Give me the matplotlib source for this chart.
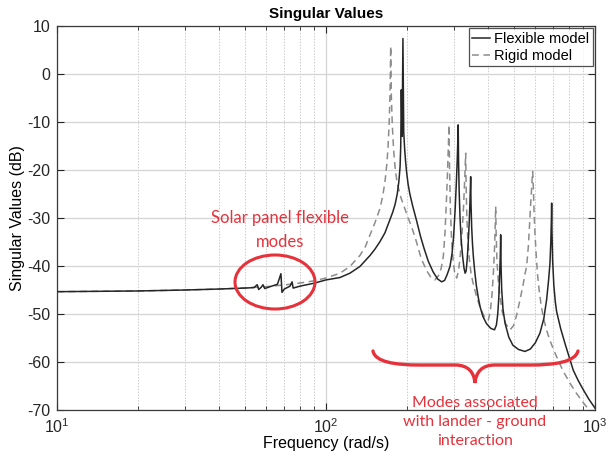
import matplotlib
matplotlib.use("Agg")
import matplotlib.pyplot as plt
from matplotlib.patches import Ellipse, PathPatch
from matplotlib.path import Path
from matplotlib.ticker import LogLocator, NullFormatter, FixedLocator

plt.rcParams['font.family'] = ['Liberation Sans', 'DejaVu Sans']
plt.rcParams['axes.unicode_minus'] = False

# ---- data ----
flex_freq = [10, 20, 30, 40, 50, 54, 55.5, 56.2, 57.5, 58.3, 59.2, 62, 66, 68.0, 68.6, 70,
             73.5, 74.8, 75.5, 80, 90, 100, 112.7, 122.7, 133.7, 145.8, 152, 158.8, 165.6,
             172.7, 177, 180.6, 184, 186.5, 188.5, 189.6, 190.5, 191.8, 193.2, 194.5, 196,
             197.5, 199.5, 202, 205, 210, 217, 225, 232, 240, 250, 260, 269, 276, 282, 289,
             294, 298, 302, 305, 307.5, 309, 310, 311, 312.5, 315, 318, 322, 326, 329, 332,
             335, 338, 341, 343, 344.2, 345, 346, 348, 350.5, 353, 357, 362, 368, 374, 383,
             395, 410, 423, 430, 435, 439, 442, 444.5, 446, 447.5, 450, 455, 463, 478, 495,
             520, 549, 575, 600, 624, 645, 661, 672, 680, 685, 688, 690, 692, 696, 703, 712,
             720, 745, 773, 800, 830, 865, 905, 950, 1000]
flex_db = [-45.35, -45.2, -45.0, -44.8, -44.6, -44.5, -43.9, -44.9, -44.4, -43.9, -44.7,
           -44.3, -43.8, -41.6, -45.5, -44.8, -44.2, -43.3, -44.6, -44.2, -43.6, -42.9, -42.4,
           -41.5, -40.1, -37.8, -36.5, -34.9, -33.1, -30.4, -28.8, -27.2, -25.0, -22.5, -19.4,
           -15.0, -3.3, -13.0, 7.4, -12.0, -15.5, -18.0, -20.6, -23.0, -25.0, -27.5, -30.5,
           -34.0, -36.5, -39.0, -41.2, -42.7, -43.3, -43.0, -41.8, -40.1, -37.5, -34.0, -28.3,
           -23.0, -18.0, -14.0, -10.6, -18.0, -24.0, -30.0, -34.5, -38.0, -40.5, -41.5, -41.0,
           -38.5, -35.0, -30.5, -26.5, -23.5, -21.4, -27.0, -32.0, -35.5, -38.0, -41.0, -44.0,
           -46.5, -48.5, -50.5, -52.0, -53.0, -53.3, -52.3, -50.0, -46.5, -42.0, -38.0, -33.5,
           -40.0, -45.0, -49.0, -51.9, -54.8, -56.5, -57.4, -57.8, -57.3, -56.0, -54.0, -51.0,
           -47.0, -43.0, -39.5, -35.0, -31.0, -26.9, -33.0, -39.0, -44.0, -47.5, -49.5, -53.0,
           -56.1, -58.8, -61.7, -63.8, -65.8, -67.8, -69.6]

rigid_freq = [10, 20, 30, 40, 50, 60, 70, 80, 90, 100, 112.7, 122.7, 133.7, 140, 145.8, 152,
              158.8, 163, 166, 168.5, 170.1, 171.8, 173, 174, 175, 176.5, 178.5, 181, 184,
              190, 200, 210, 217, 226, 237, 245, 254, 262, 268, 273, 277, 281, 283.5, 285.2,
              286.6, 288, 290, 293, 297, 301, 306, 311, 316, 321, 325, 328, 330.6, 332, 334,
              337, 341, 346, 352, 363, 375, 388, 401, 408, 414, 419, 423, 425.5, 427.4, 429,
              432, 437, 443.6, 452, 465, 483, 497, 510, 526, 540, 550, 557, 565, 571, 576,
              581, 584.5, 586.7, 590, 594, 598, 605, 612, 620, 630, 642, 660, 680, 700, 720,
              760, 807, 855, 905, 960, 1000]
rigid_db = [-45.35, -45.2, -45.0, -44.8, -44.55, -44.3, -43.95, -43.55, -43.1, -42.5, -41.5,
            -40.1, -37.8, -36.0, -33.5, -31.0, -28.0, -25.0, -22.0, -18.5, -15.1, -10.0, -4.0,
            5.8, -5.0, -11.0, -16.0, -20.0, -22.8, -25.8, -29.3, -32.5, -35.0, -38.5, -41.0,
            -42.3, -42.9, -42.0, -40.5, -38.0, -33.0, -25.0, -19.0, -14.5, -10.6, -20.0, -28.0,
            -34.5, -39.0, -41.5, -42.5, -41.0, -37.5, -32.5, -27.0, -21.5, -16.5, -24.0, -30.0,
            -35.0, -38.5, -41.5, -43.5, -46.4, -48.8, -50.6, -51.3, -49.5, -46.0, -41.5, -36.5,
            -32.0, -27.6, -33.0, -39.0, -43.0, -46.4, -49.5, -52.0, -53.3, -52.5, -50.5, -47.1,
            -44.0, -41.5, -40.1, -36.0, -31.5, -27.5, -24.0, -21.5, -20.3, -24.0, -29.0, -33.1,
            -38.0, -42.0, -45.0, -48.0, -50.6, -53.3, -55.5, -57.3, -58.9, -61.8, -64.4, -66.6,
            -68.5, -70.3, -71.5]

series_labels = ["Flexible model", "Rigid model"]
yticks = [10, 0, -10, -20, -30, -40, -50, -60, -70]

W, H = 611, 461
fig = plt.figure(figsize=(W / 100, H / 100), dpi=100)
ax = fig.add_axes([57 / W, 1 - 410 / H, (595 - 57) / W, (410 - 26) / H])

ax.plot(flex_freq, flex_db, color='#262626', lw=1.1, label=series_labels[0], zorder=4)
ax.plot(rigid_freq, rigid_db, color='#8c8c8c', lw=1.1, ls=(0, (4.5, 3)), label=series_labels[1], zorder=3)

ax.set_xscale('log')
ax.set_xlim(10, 1000)
ax.set_ylim(-70, 10)
ax.yaxis.set_major_locator(FixedLocator(yticks))
ax.xaxis.set_major_locator(LogLocator(base=10, numticks=10))
ax.xaxis.set_minor_locator(LogLocator(base=10, subs=range(2, 10), numticks=50))
ax.xaxis.set_minor_formatter(NullFormatter())

ax.grid(True, which='major', color='#d4d4d4', lw=0.9, ls='-')
ax.grid(True, which='minor', axis='x', color='#cccccc', lw=0.7, ls=(0, (1.5, 1.5)))
ax.set_axisbelow(True)

ax.tick_params(which='both', direction='in', top=True, right=True, labelsize=11.5, colors='#262626')
ax.tick_params(which='major', length=5, pad=5)
ax.tick_params(which='minor', length=3)
for s in ax.spines.values():
    s.set_color('#3a3a3a')
    s.set_linewidth(0.9)

ax.set_title('Singular Values', fontsize=11, fontweight='bold', pad=6)
ax.set_xlabel('Frequency (rad/s)', fontsize=11.5, labelpad=0)
ax.set_ylabel('Singular Values (dB)', fontsize=11.5, labelpad=1)

leg = ax.legend(loc='upper right', fontsize=10.5, frameon=True, fancybox=False,
                edgecolor='#262626', handlelength=1.2, borderpad=0.25, labelspacing=0.2,
                handletextpad=0.3, borderaxespad=0.15)
leg.get_frame().set_linewidth(0.9)

red = '#e5323b'

def fxy(px, py):
    return (px / W, 1 - py / H)

# ellipse around the solar panel modes
ex, ey = fxy(275, 282)
ell = Ellipse((ex, ey), 80 / W, 54 / H, transform=fig.transFigure, fill=False,
              edgecolor=red, lw=2.2, zorder=6)
fig.add_artist(ell)

fig.text(*fxy(280, 230), 'Solar panel flexible\nmodes', color=red, fontsize=12,
         ha='center', va='center', family=['Lato', 'DejaVu Sans'], linespacing=1.55)

# curly brace
pts = [(373, 351), (375, 362), (395, 365), (420, 365),
       (455, 365),
       (468, 365), (474, 372), (475, 383),
       (476, 372), (482, 365), (495, 365),
       (530, 365),
       (555, 365), (575, 362), (578, 351)]
codes = [Path.MOVETO, Path.CURVE4, Path.CURVE4, Path.CURVE4,
         Path.LINETO,
         Path.CURVE4, Path.CURVE4, Path.CURVE4,
         Path.CURVE4, Path.CURVE4, Path.CURVE4,
         Path.LINETO,
         Path.CURVE4, Path.CURVE4, Path.CURVE4]
brace = PathPatch(Path([fxy(*p) for p in pts], codes), transform=fig.transFigure,
                  fill=False, edgecolor=red, lw=2.4, capstyle='round', zorder=6)
fig.add_artist(brace)

fig.text(*fxy(475, 422), 'Modes associated\nwith lander - ground\ninteraction', color=red,
         fontsize=11.5, ha='center', va='center', family=['Lato', 'DejaVu Sans'],
         linespacing=1.45)

fig.savefig('out.png', dpi=100)
